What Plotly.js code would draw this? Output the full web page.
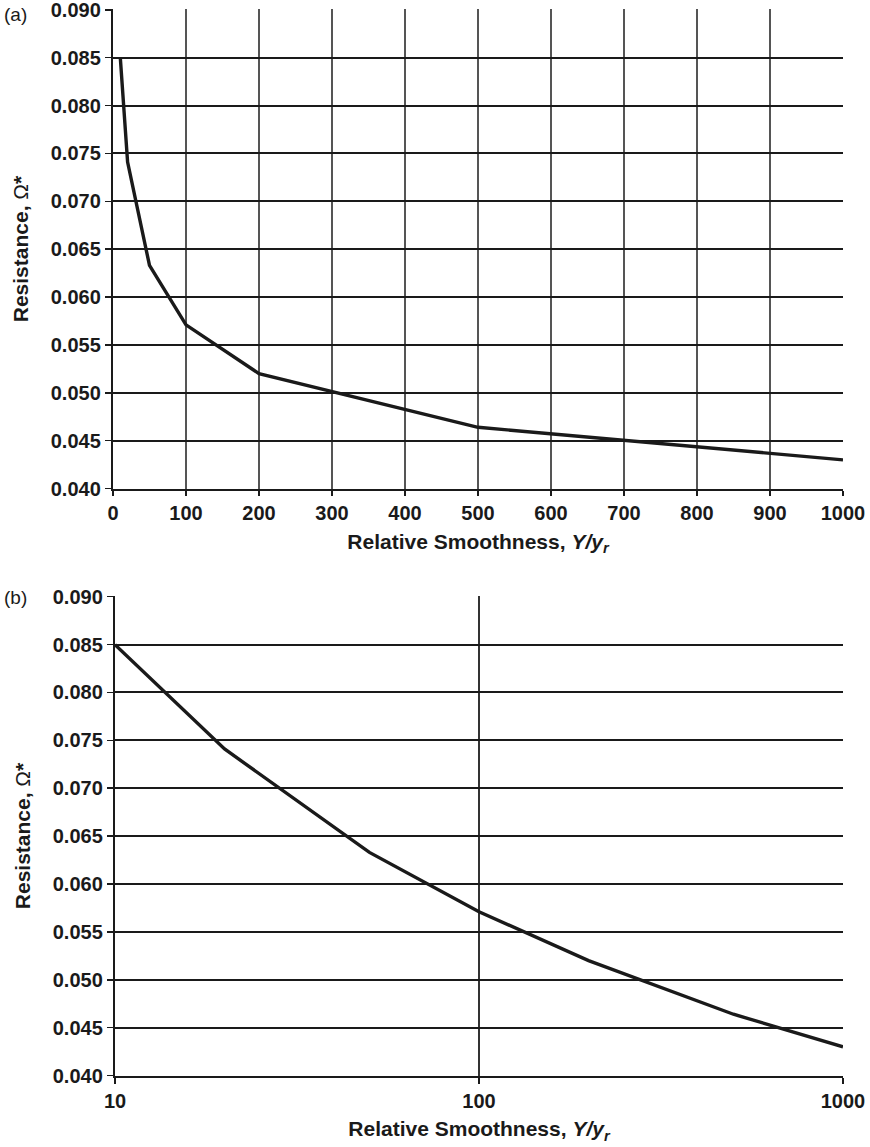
<!DOCTYPE html>
<html>
<head>
<meta charset="utf-8">
<script src="https://cdn.plot.ly/plotly-3.0.1.min.js"></script>
<style>html,body{margin:0;padding:0;background:#fff;}#chart{width:870px;height:1147px;}</style>
</head>
<body>
<div id="chart"></div>
<script>
// Relative smoothness Y/y_r and resistance Omega*
const smoothness = [10, 20, 50, 100, 200, 500, 1000];
const resistance = [0.0850, 0.0741, 0.0633, 0.0571, 0.0520, 0.0464, 0.0430];
const linTicks = [0, 100, 200, 300, 400, 500, 600, 700, 800, 900, 1000];
const logTicks = [10, 100, 1000];
const yTicks = [0.040, 0.045, 0.050, 0.055, 0.060, 0.065, 0.070, 0.075, 0.080, 0.085, 0.090];
const yTickText = ['0.040', '0.045', '0.050', '0.055', '0.060', '0.065', '0.070', '0.075', '0.080', '0.085', '0.090'];
const panelLabels = ['(a)', '(b)'];
const xTitle = 'Relative Smoothness, <i>Y/y<sub>r</sub></i>';
const yTitle = 'Resistance, <span style="font-weight:normal">Ω</span>*';

const FONT = 'Liberation Sans, Arial, sans-serif';
const tickFont = {family: FONT, size: 20, color: '#1a1a1a', weight: 'bold'};
const titleFont = {family: FONT, size: 21, color: '#1a1a1a', weight: 'bold'};

const lineStyle = {color: '#1a1a1a', width: 3.4};

const traces = [
  {x: smoothness, y: resistance, xaxis: 'x', yaxis: 'y', mode: 'lines', line: lineStyle, hoverinfo: 'skip'},
  {x: smoothness, y: resistance, xaxis: 'x2', yaxis: 'y2', mode: 'lines', line: lineStyle, hoverinfo: 'skip'}
];

function yAxis(domain, anchor) {
  return {
    domain: domain, anchor: anchor,
    range: [0.03995, 0.09008], tickvals: yTicks.slice(), ticktext: yTickText.slice(),
    showgrid: true, gridcolor: '#1a1a1a', gridwidth: 2,
    showline: true, linecolor: '#1a1a1a', linewidth: 2.2,
    ticks: 'outside', ticklen: 6, tickwidth: 1.5, tickcolor: '#1a1a1a',
    ticklabeloverflow: 'allow',
    tickfont: Object.assign({}, tickFont), zeroline: false, fixedrange: true,
    title: {text: yTitle, font: Object.assign({}, titleFont), standoff: 16}
  };
}

const layout = {
  width: 870, height: 1147,
  margin: {l: 113, r: 27, t: 9, b: 71},
  paper_bgcolor: '#fff', plot_bgcolor: '#fff',
  showlegend: false,
  xaxis: {
    domain: [0, 1], anchor: 'y',
    range: [0, 1000], tickvals: linTicks, ticktext: linTicks.map(String),
    showgrid: true, gridcolor: '#555', gridwidth: 1.1,
    showline: true, linecolor: '#1a1a1a', linewidth: 1.6,
    ticks: 'outside', ticklen: 5, tickwidth: 1.3, tickcolor: '#1a1a1a',
    ticklabeloverflow: 'allow',
    tickfont: tickFont, zeroline: false, fixedrange: true,
    title: {text: xTitle, font: titleFont, standoff: 11}
  },
  yaxis: yAxis([0.5501, 1], 'x'),
  xaxis2: {
    domain: [0.00274, 1], anchor: 'y2',
    type: 'log', range: [1, 3], tickvals: logTicks, ticktext: logTicks.map(String),
    showgrid: true, gridcolor: '#333', gridwidth: 1.1,
    showline: true, linecolor: '#1a1a1a', linewidth: 1.6,
    ticks: 'outside', ticklen: 6, tickwidth: 1.3, tickcolor: '#1a1a1a',
    ticklabeloverflow: 'allow',
    tickfont: tickFont, zeroline: false, fixedrange: true,
    title: {text: xTitle, font: titleFont, standoff: 11}
  },
  yaxis2: yAxis([0, 0.4499], 'x2'),
  annotations: [
    {text: panelLabels[0], xref: 'paper', yref: 'paper', x: -0.152, y: 0.9944, xanchor: 'left', yanchor: 'middle', showarrow: false, font: {family: FONT, size: 19, color: '#1a1a1a'}},
    {text: panelLabels[1], xref: 'paper', yref: 'paper', x: -0.152, y: 0.4480, xanchor: 'left', yanchor: 'middle', showarrow: false, font: {family: FONT, size: 19, color: '#1a1a1a'}}
  ]
};

Plotly.newPlot('chart', traces, layout, {displayModeBar: false, staticPlot: true});
</script>
</body>
</html>
